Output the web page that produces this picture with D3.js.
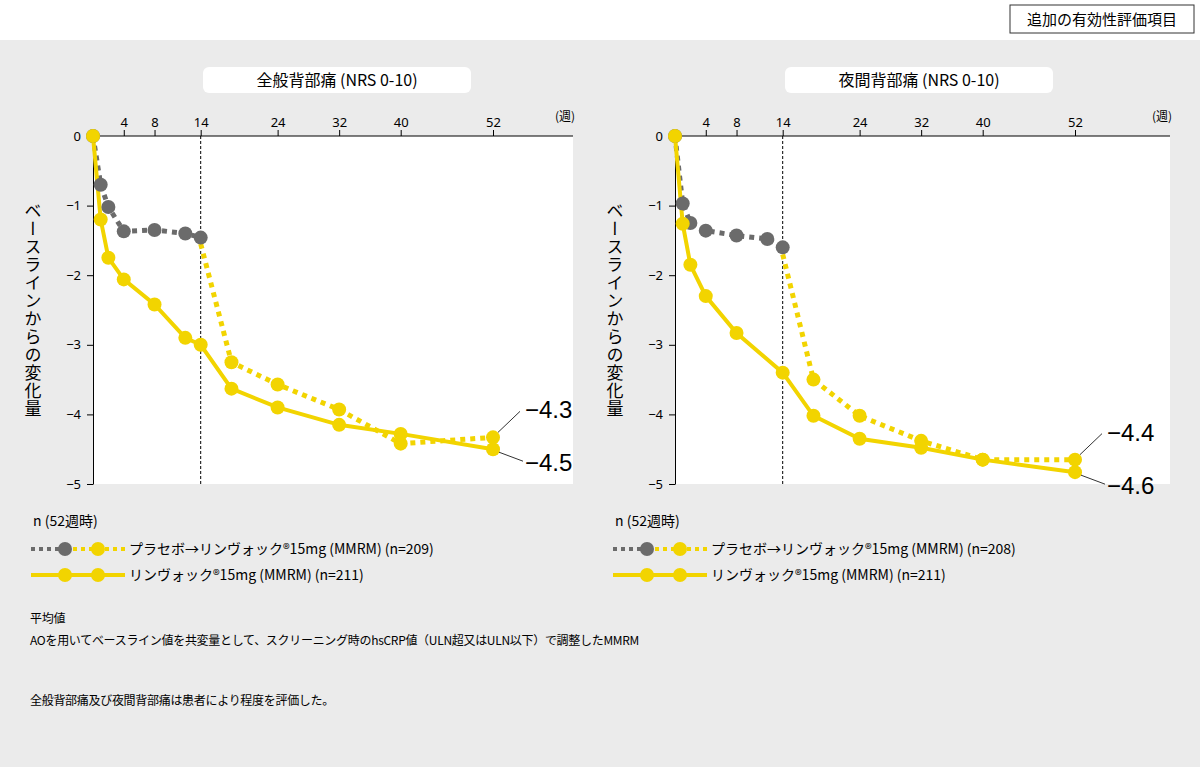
<!DOCTYPE html>
<html><head><meta charset="utf-8">
<script src="https://cdn.jsdelivr.net/npm/d3@7"></script>
<style>body{margin:0;background:#ebebeb;font-family:"Noto Sans CJK JP","Noto Sans",sans-serif}</style>
</head><body><svg id="c" width="1200" height="767"></svg>
<script>
const weekTicks = [4, 8, 14, 24, 32, 40, 52];
const yTicks = [0, -1, -2, -3, -4, -5];

const panelTitles = ["全般背部痛 (NRS 0-10)", "夜間背部痛 (NRS 0-10)"];
// placebo period (grey), switch period (yellow dotted), active (yellow solid)
const placeboA = [[0,0],[1,-0.7],[2,-1.02],[4,-1.37],[8,-1.35],[12,-1.4],[14,-1.46]];
const switchA = [[14,-1.55],[18,-3.25],[24,-3.57],[32,-3.93],[40,-4.42],[52,-4.33]];
const activeA = [[0,0],[1,-1.2],[2,-1.75],[4,-2.06],[8,-2.42],[12,-2.9],[14,-3.0],[18,-3.63],[24,-3.9],[32,-4.15],[40,-4.28],[52,-4.5]];
const placeboB = [[0,0],[1,-0.97],[2,-1.25],[4,-1.36],[8,-1.43],[12,-1.48],[14,-1.6]];
const switchB = [[14,-1.7],[18,-3.5],[24,-4.02],[32,-4.38],[40,-4.65],[52,-4.65]];
const activeB = [[0,0],[1,-1.26],[2,-1.85],[4,-2.3],[8,-2.83],[14,-3.4],[18,-4.02],[24,-4.35],[32,-4.48],[40,-4.65],[52,-4.83]];
const endLabels = [["−4.3","−4.5"],["−4.4","−4.6"]];
const legendN = [["209","211"],["208","211"]];

const svg = d3.select("#c");
const YEL = "#f2d400", GRY = "#6b6b6b";

svg.append("rect").attr("width",1200).attr("height",40).attr("fill","#fff");
svg.append("rect").attr("x",1010).attr("y",5).attr("width",184).attr("height",28).attr("fill","#fff").attr("stroke","#333");
svg.append("text").attr("x",1102).attr("y",25).attr("text-anchor","middle").attr("font-size",15).text("追加の有効性評価項目");

function panel(ox, w, title, placebo, sw, active, labels, ns) {
  const x = d3.scaleLinear().domain([0, 52]).range([ox, ox + 400]);
  const y = d3.scaleLinear().domain([0, -5]).range([136, 484]);
  const g = svg.append("g");
  g.append("rect").attr("x", ox).attr("y", 136).attr("width", w).attr("height", 348).attr("fill", "#fff");
  g.append("rect").attr("x", ox + 110).attr("y", 67).attr("width", 268).attr("height", 26).attr("rx", 6).attr("fill", "#fff");
  g.append("text").attr("x", ox + 244).attr("y", 86).attr("text-anchor", "middle").attr("font-size", 16).text(title);

  const xa = g.append("g").attr("transform", "translate(0,136)")
    .call(d3.axisTop(x).tickValues(weekTicks).tickSize(6).tickSizeOuter(0));
  xa.select(".domain").attr("d", `M${ox},0H${ox + w}`);
  xa.selectAll("text").attr("font-size", 13).attr("font-family", "Noto Sans");
  g.append("text").attr("x", ox + w - 8).attr("y", 121).attr("text-anchor", "middle").attr("font-size", 12).text("(週)");

  const ya = g.append("g").attr("transform", `translate(${ox},0)`)
    .call(d3.axisLeft(y).tickValues(yTicks).tickSize(6).tickSizeOuter(0).tickFormat(d => d < 0 ? "−" + (-d) : d));
  ya.selectAll("text").attr("font-size", 13).attr("font-family", "Noto Sans").attr("x", -12);
  g.append("line").attr("x1", x(14)).attr("x2", x(14)).attr("y1", 136).attr("y2", 484)
    .attr("stroke", "#000").attr("stroke-dasharray", "3,2");

  g.append("text").attr("transform", `translate(${ox - 60},310)`).attr("font-size", 17)
    .attr("writing-mode", "tb").attr("text-anchor", "middle").attr("letter-spacing", 1).text("ベースラインからの変化量");

  const line = d3.line().x(d => x(d[0])).y(d => y(d[1]));
  g.append("path").attr("d", line(placebo)).attr("fill", "none").attr("stroke", GRY).attr("stroke-width", 5).attr("stroke-dasharray", "5,5");
  g.append("path").attr("d", line(sw)).attr("fill", "none").attr("stroke", YEL).attr("stroke-width", 5).attr("stroke-dasharray", "5,5");
  g.append("path").attr("d", line(active)).attr("fill", "none").attr("stroke", YEL).attr("stroke-width", 4);
  g.selectAll(".pp").data(placebo).join("circle").attr("cx", d => x(d[0])).attr("cy", d => y(d[1])).attr("r", 7).attr("fill", GRY);
  g.selectAll(".ps").data(sw.slice(1)).join("circle").attr("cx", d => x(d[0])).attr("cy", d => y(d[1])).attr("r", 7).attr("fill", YEL);
  g.selectAll(".pa").data(active).join("circle").attr("cx", d => x(d[0])).attr("cy", d => y(d[1])).attr("r", 7).attr("fill", YEL);

  const ex = x(52), s1 = sw[sw.length - 1][1], a1 = active[active.length - 1][1];
  g.append("path").attr("d", `M${ex + 5},${y(s1) - 5}L${ex + 27},${y(s1) - 26}`).attr("stroke", "#333").attr("fill", "none");
  g.append("path").attr("d", `M${ex + 6},${y(a1) + 3}L${ex + 30},${y(a1) + 12}`).attr("stroke", "#333").attr("fill", "none");
  g.append("text").attr("x", ex + 32).attr("y", y(s1) - 19).attr("font-size", 24).attr("font-family", "Liberation Sans").text(labels[0]);
  g.append("text").attr("x", ex + 32).attr("y", y(a1) + 22).attr("font-size", 24).attr("font-family", "Liberation Sans").text(labels[1]);

  // legend
  const lx = ox - 62;
  g.append("text").attr("x", lx + 2).attr("y", 526).attr("font-size", 14).text("n (52週時)");
  g.append("line").attr("x1", lx).attr("x2", lx + 34).attr("y1", 549).attr("y2", 549).attr("stroke", GRY).attr("stroke-width", 4).attr("stroke-dasharray", "4,4");
  g.append("line").attr("x1", lx + 34).attr("x2", lx + 94).attr("y1", 549).attr("y2", 549).attr("stroke", YEL).attr("stroke-width", 4).attr("stroke-dasharray", "4,4");
  g.append("circle").attr("cx", lx + 34).attr("cy", 549).attr("r", 7).attr("fill", GRY);
  g.append("circle").attr("cx", lx + 67).attr("cy", 549).attr("r", 7).attr("fill", YEL);
  g.append("text").attr("x", lx + 98).attr("y", 554).attr("font-size", 14).text(`プラセボ→リンヴォック®15mg (MMRM) (n=${ns[0]})`);
  g.append("line").attr("x1", lx).attr("x2", lx + 94).attr("y1", 575).attr("y2", 575).attr("stroke", YEL).attr("stroke-width", 4);
  g.append("circle").attr("cx", lx + 34).attr("cy", 575).attr("r", 7).attr("fill", YEL);
  g.append("circle").attr("cx", lx + 67).attr("cy", 575).attr("r", 7).attr("fill", YEL);
  g.append("text").attr("x", lx + 98).attr("y", 580).attr("font-size", 14).text(`リンヴォック®15mg (MMRM) (n=${ns[1]})`);
}

panel(93, 480, panelTitles[0], placeboA, switchA, activeA, endLabels[0], legendN[0]);
panel(675, 495, panelTitles[1], placeboB, switchB, activeB, endLabels[1], legendN[1]);

const notes = [[30, 623, "平均値"], [30, 645, "AOを用いてベースライン値を共変量として、スクリーニング時のhsCRP値（ULN超又はULN以下）で調整したMMRM"], [30, 705, "全般背部痛及び夜間背部痛は患者により程度を評価した。"]];
svg.selectAll(".note").data(notes).join("text").attr("x", d => d[0]).attr("y", d => d[1])
  .attr("font-size", 12).attr("letter-spacing", -0.3).text(d => d[2]);
</script></body></html>
